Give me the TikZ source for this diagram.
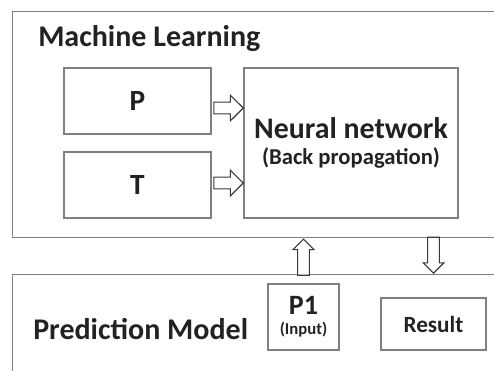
\documentclass[tikz,border=0pt]{standalone}
\usepackage{fontspec}
\setmainfont{Carlito}
\usetikzlibrary{shapes.arrows}

\definecolor{boxgray}{HTML}{808080}
\definecolor{textdark}{HTML}{222222}
\definecolor{arrowgray}{HTML}{3A3A3A}

\tikzset{
    box/.style={rectangle, draw=boxgray, line width=1.1pt, inner sep=0pt, text=textdark, font=\bfseries},
    blkarrow/.style={single arrow, draw=arrowgray, fill=white, line width=0.8pt, inner sep=4pt,
        single arrow head extend=5.2pt, single arrow tip angle=90, minimum height=#1},
    blkarrow/.default=22pt,
    title/.style={inner sep=0pt, anchor=base west, text=textdark, font=\fontsize{22.5}{26}\selectfont\bfseries}
}

\begin{document}
\begin{tikzpicture}[x=0.75pt, y=-0.75pt]
    \useasboundingbox (0,0) rectangle (494,371);
    \clip (0,0) rectangle (494,371);
    \node[box, minimum width=390pt, minimum height=169.5pt, anchor=north west] (ml) at (12,11) {};
    \node[title] (mltitle) at (38,46) {Machine Learning};
    \node[box, minimum width=110.25pt, minimum height=49.5pt] (p) at (137.5,101) {\fontsize{22}{24}\selectfont P};
    \node[box, minimum width=110.25pt, minimum height=49.5pt] (t) at (137.5,185) {\fontsize{22}{24}\selectfont T};
    \node[box, minimum width=160.5pt, minimum height=112.5pt, align=center] (nn) at (351,143) {\fontsize{22.4}{24}\selectfont Neural network\\[6pt]{\fontsize{17}{19}\selectfont (Back propagation)}};
    \node[blkarrow, anchor=tip] (pnn) at (244,108) {};
    \node[blkarrow, anchor=tip] (tnn) at (244,183) {};
    \node[box, minimum width=390pt, minimum height=120pt, anchor=north west] (pm) at (12,274) {};
    \node[title] (pmtitle) at (33,339) {Prediction Model};
    \node[box, minimum width=53.25pt, minimum height=49.5pt, align=center] (pone) at (303.5,317) {\fontsize{21}{22}\selectfont P1\\[3pt]{\fontsize{12.5}{14}\selectfont (Input)}};
    \node[box, minimum width=78.75pt, minimum height=39pt] (result) at (433.5,324) {\fontsize{17.4}{19}\selectfont Result};
    \node[blkarrow=27pt, single arrow head extend=3.4pt, shape border rotate=90, anchor=tip] (up) at (pone.north |- ml.south) {};
    \node[blkarrow=27pt, single arrow head extend=3.4pt, shape border rotate=270, anchor=tip] (down) at (result.north |- pm.north) {};
\end{tikzpicture}
\end{document}
